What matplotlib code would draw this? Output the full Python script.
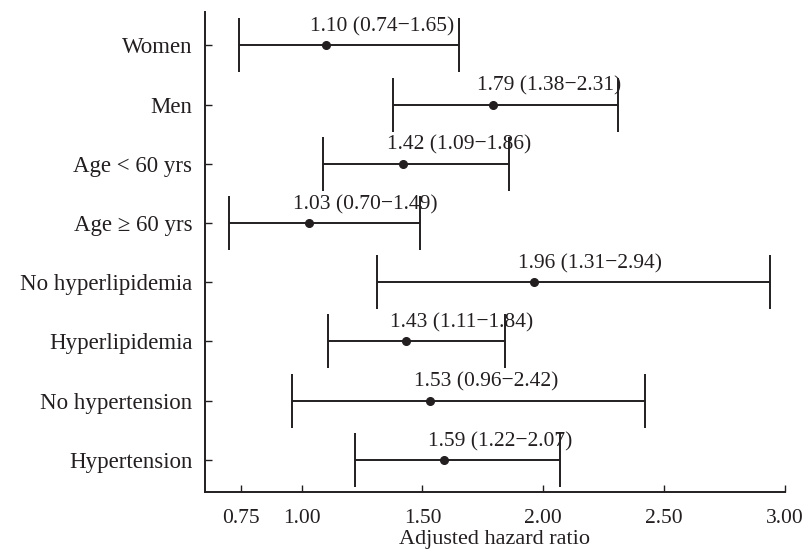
import matplotlib
matplotlib.use("Agg")
import matplotlib.pyplot as plt

categories = ["Women", "Men", "Age < 60 yrs", "Age \u2265 60 yrs", "No hyperlipidemia",
              "Hyperlipidemia", "No hypertension", "Hypertension"]
hr = [1.10, 1.79, 1.42, 1.03, 1.96, 1.43, 1.53, 1.59]
lower = [0.74, 1.38, 1.09, 0.70, 1.31, 1.11, 0.96, 1.22]
upper = [1.65, 2.31, 1.86, 1.49, 2.94, 1.84, 2.42, 2.07]
xticks = [0.75, 1.00, 1.50, 2.00, 2.50, 3.00]
xticklabels = ["0.75", "1.00", "1.50", "2.00", "2.50", "3.00"]

plt.rcParams['font.family'] = ['Liberation Serif', 'DejaVu Serif']
col = "#231f20"

fig = plt.figure(figsize=(8.06, 5.5), dpi=100)
ax = fig.add_axes([0.2543, 0.1055, 0.7196, 0.8725])

ys = list(range(len(categories)))
xerr = [[h - l for h, l in zip(hr, lower)], [u - h for h, u in zip(hr, upper)]]
ax.errorbar(hr, ys, xerr=xerr, fmt='o', color=col, ecolor=col, elinewidth=1.4,
            capsize=19.5, capthick=1.4, markersize=5.5)

for h, l, u, y in zip(hr, lower, upper, ys):
    ax.annotate(f"{h:.2f} ({l:.2f}\u2212{u:.2f})", xy=(h, y), xytext=(-11.5, 10),
                textcoords='offset points', ha='left', va='baseline',
                fontsize=15.5, color=col)

ax.set_yticks(ys)
ax.set_yticklabels(categories, fontsize=16.5, color=col)
ax.set_xticks(xticks)
ax.set_xticklabels(xticklabels, fontsize=15.5, color=col)
ax.set_xlim(0.60, 3.00)
ax.set_ylim(7.54, -0.56)
ax.set_xlabel("Adjusted hazard ratio", fontsize=16, color=col, labelpad=1.5)

for s in ['top', 'right']:
    ax.spines[s].set_visible(False)
for s in ['left', 'bottom']:
    ax.spines[s].set_color(col)
    ax.spines[s].set_linewidth(1.4)
ax.tick_params(axis='both', direction='in', colors=col, length=5, width=1.0,
               labelcolor=col)
ax.tick_params(axis='x', pad=12)
ax.tick_params(axis='y', pad=9)

fig.savefig("out.png", dpi=100)
